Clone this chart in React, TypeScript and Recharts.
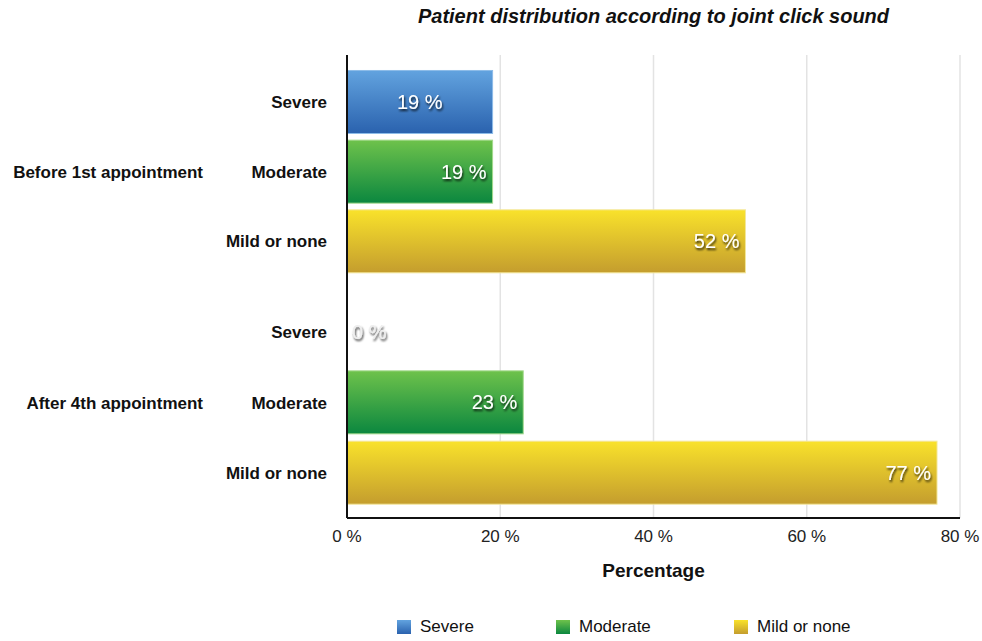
import { BarChart, Bar, XAxis, YAxis, CartesianGrid, Cell } from 'recharts'

const groups = ['Before 1st appointment', 'After 4th appointment']
const levels = ['Severe', 'Moderate', 'Mild or none']
const beforeValues = [19, 19, 52]
const afterValues = [0, 23, 77]
const xTicks = [0, 20, 40, 60, 80]

const gradients = [
  { top: '#62a3df', bottom: '#2a62ae', edge: '#8dbbe8' },
  { top: '#6ec24b', bottom: '#0b873f', edge: '#a3d98c' },
  { top: '#f9e22b', bottom: '#c49d2e', edge: '#f3e79a' },
]

const font = '"Liberation Sans", Arial, Helvetica, sans-serif'

const makeTick = (group: string) => (props: any) => {
  const { x, y, payload, index } = props
  return (
    <g>
      <text x={x} y={y} dy={6} textAnchor="end" fontFamily={font} fontSize={17} fontWeight="bold" fill="#111">
        {payload.value}
      </text>
      {index === 1 && (
        <text x={x - 124} y={y} dy={6} textAnchor="end" fontFamily={font} fontSize={17} fontWeight="bold" fill="#111">
          {group}
        </text>
      )}
    </g>
  )
}

// bar + its value label; the 0 value still gets a label at the axis
const makeShape = (gi: number) => (props: any) => {
  const { x, y, width, height, index, fill, stroke } = props
  const value = props.payload?.value ?? 0
  const cy = y + height / 2 + 7
  let tx = x + width - 6
  let anchor: 'end' | 'middle' | 'start' = 'end'
  let textFill = '#fff'
  if (value === 0) {
    tx = x + 5
    anchor = 'start'
    textFill = '#eee'
  } else if (gi === 0 && index === 0) {
    tx = x + width / 2
    anchor = 'middle'
  }
  return (
    <g>
      {width > 0 && (
        <rect x={x} y={y} width={width} height={height} fill={fill} stroke={stroke} strokeWidth={1} />
      )}
      <text x={tx} y={cy} textAnchor={anchor} fontFamily={font} fontSize={20} fill={textFill}
        filter={`url(#shadow${gi})`}>
        {`${value} %`}
      </text>
    </g>
  )
}

function GroupChart({ gi, values, height, showX }: { gi: number; values: number[]; height: number; showX: boolean }) {
  const data = levels.map((level, i) => ({ level, value: values[i] }))
  return (
    <BarChart width={982} height={height} data={data} layout="vertical"
      margin={{ top: gi === 0 ? 55 : 0, right: 22, left: 0, bottom: 0 }} barCategoryGap="5%">
      <defs>
        {gradients.map((g, i) => (
          <linearGradient key={i} id={`grad${gi}-${i}`} x1="0" y1="0" x2="0" y2="1">
            <stop offset="0%" stopColor={g.top} />
            <stop offset="100%" stopColor={g.bottom} />
          </linearGradient>
        ))}
        <filter id={`shadow${gi}`} x="-20%" y="-30%" width="140%" height="160%">
          <feDropShadow dx="1" dy="2" stdDeviation="1" floodColor="#000" floodOpacity="0.8" />
        </filter>
      </defs>
      <CartesianGrid horizontal={false} stroke="#e3e3e3" strokeWidth={1.5} />
      <XAxis type="number" domain={[0, 80]} ticks={xTicks} hide={!showX} height={40}
        axisLine={{ stroke: '#111', strokeWidth: 2 }} tickLine={false} tickSize={0} tickMargin={12}
        tickFormatter={v => `${v} %`}
        tick={{ fontFamily: font, fontSize: 17, fill: '#222' }} />
      <YAxis type="category" dataKey="level" width={347}
        padding={gi === 0 ? { top: 12, bottom: 11 } : { top: 10, bottom: 10 }}
        axisLine={{ stroke: '#111', strokeWidth: 2 }} tickLine={false} tickSize={0} tickMargin={20}
        tick={makeTick(groups[gi])} />
      <Bar dataKey="value" isAnimationActive={false} shape={makeShape(gi)}>
        {data.map((_, i) => (
          <Cell key={i} fill={`url(#grad${gi}-${i})`} stroke={gradients[i].edge} />
        ))}
      </Bar>
    </BarChart>
  )
}

export default function App() {
  return (
    <div style={{ position: 'absolute', left: 0, top: 0, width: 982, height: 641, background: '#fff', fontFamily: font }}>
      <div style={{ position: 'absolute', top: 5, left: 347, width: 613, textAlign: 'center',
        fontSize: 20, fontWeight: 'bold', fontStyle: 'italic', color: '#111' }}>
        Patient distribution according to joint click sound
      </div>
      <div style={{ position: 'absolute', top: 0, left: 0 }}>
        <GroupChart gi={0} values={beforeValues} height={287} showX={false} />
      </div>
      <div style={{ position: 'absolute', top: 287, left: 0 }}>
        <GroupChart gi={1} values={afterValues} height={271} showX={true} />
      </div>
      <div style={{ position: 'absolute', top: 560, left: 347, width: 613, textAlign: 'center',
        fontSize: 19, fontWeight: 'bold', color: '#111' }}>
        Percentage
      </div>
      <div style={{ position: 'absolute', top: 617, left: 0, width: 982, height: 22 }}>
        {levels.map((l, i) => (
          <div key={l} style={{ position: 'absolute', left: [397, 556, 734][i], top: 0, display: 'flex', alignItems: 'center' }}>
            <div style={{ width: 14, height: 14, background: `linear-gradient(${gradients[i].top}, ${gradients[i].bottom})` }} />
            <span style={{ marginLeft: 9, fontSize: 17, color: '#111' }}>{l}</span>
          </div>
        ))}
      </div>
    </div>
  )
}
